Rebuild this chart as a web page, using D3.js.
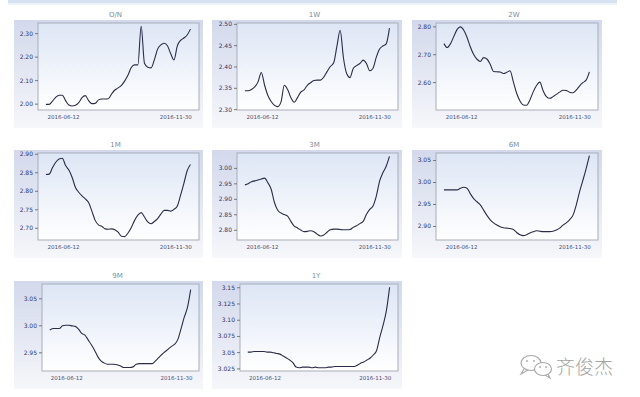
<!DOCTYPE html>
<html>
<head>
<meta charset="utf-8">
<script src="https://cdnjs.cloudflare.com/ajax/libs/d3/7.8.5/d3.min.js"></script>
<style>
  body { margin: 0; background: #fff; }
  svg { display: block; }
</style>
</head>
<body>
<svg id="chart" width="640" height="397"></svg>
<script>
const dates = [
    '2016-05-17', '2016-05-22', '2016-05-27', '2016-06-01', '2016-06-06', '2016-06-11', '2016-06-16', '2016-06-21', '2016-06-26',
    '2016-07-01', '2016-07-06', '2016-07-11', '2016-07-16', '2016-07-21', '2016-07-26', '2016-07-31', '2016-08-05', '2016-08-10',
    '2016-08-15', '2016-08-20', '2016-08-25', '2016-08-30', '2016-09-04', '2016-09-09', '2016-09-14', '2016-09-19', '2016-09-24',
    '2016-09-29', '2016-10-04', '2016-10-09', '2016-10-14', '2016-10-19', '2016-10-24', '2016-10-29', '2016-11-03', '2016-11-08',
    '2016-11-13', '2016-11-18', '2016-11-23', '2016-11-28', '2016-12-03', '2016-12-08', '2016-12-13', '2016-12-18', '2016-12-23'
];

const tenors = ['O/N', '1W', '2W', '1M', '3M', '6M', '9M', '1Y'];

const onValues = [1.997, 1.997, 2.011, 2.027, 2.036, 2.036, 2.013, 1.994, 1.990, 1.993, 2.004, 2.026, 2.034, 2.013, 2.000,
    2.001, 2.016, 2.020, 2.020, 2.021, 2.041, 2.058, 2.067, 2.078, 2.097, 2.122, 2.154, 2.165, 2.165, 2.329, 2.172, 2.155,
    2.152, 2.186, 2.232, 2.250, 2.257, 2.246, 2.212, 2.186, 2.246, 2.269, 2.279, 2.292, 2.317];
const w1Values = [2.343, 2.343, 2.346, 2.352, 2.364, 2.386, 2.356, 2.332, 2.318, 2.309, 2.306, 2.317, 2.356, 2.346, 2.327,
    2.316, 2.327, 2.340, 2.345, 2.356, 2.362, 2.367, 2.368, 2.368, 2.375, 2.388, 2.400, 2.408, 2.447, 2.485, 2.420, 2.383,
    2.374, 2.396, 2.402, 2.407, 2.415, 2.407, 2.390, 2.396, 2.422, 2.441, 2.448, 2.453, 2.490];
const w2Values = [2.738, 2.724, 2.738, 2.764, 2.789, 2.798, 2.786, 2.760, 2.726, 2.699, 2.682, 2.674, 2.688, 2.683, 2.664,
    2.638, 2.637, 2.636, 2.631, 2.635, 2.641, 2.601, 2.560, 2.532, 2.518, 2.517, 2.536, 2.565, 2.588, 2.600, 2.569, 2.548,
    2.542, 2.548, 2.556, 2.564, 2.571, 2.570, 2.564, 2.562, 2.571, 2.586, 2.598, 2.607, 2.637];
const m1Values = [2.844, 2.845, 2.862, 2.877, 2.886, 2.888, 2.868, 2.856, 2.836, 2.809, 2.796, 2.786, 2.778, 2.768, 2.745,
    2.720, 2.708, 2.704, 2.697, 2.696, 2.697, 2.695, 2.688, 2.677, 2.676, 2.686, 2.701, 2.720, 2.734, 2.741, 2.729, 2.716,
    2.711, 2.717, 2.725, 2.737, 2.747, 2.747, 2.745, 2.750, 2.759, 2.788, 2.820, 2.854, 2.871];
const m3Values = [2.945, 2.949, 2.955, 2.958, 2.961, 2.964, 2.967, 2.952, 2.931, 2.888, 2.863, 2.854, 2.849, 2.844, 2.827,
    2.812, 2.806, 2.799, 2.794, 2.795, 2.797, 2.794, 2.786, 2.780, 2.783, 2.792, 2.800, 2.802, 2.802, 2.801, 2.800, 2.800,
    2.801, 2.808, 2.813, 2.820, 2.827, 2.850, 2.866, 2.877, 2.909, 2.957, 2.984, 3.005, 3.037];
const m6Values = [2.982, 2.982, 2.982, 2.982, 2.982, 2.986, 2.988, 2.986, 2.973, 2.962, 2.955, 2.948, 2.936, 2.924, 2.914,
    2.907, 2.902, 2.898, 2.896, 2.895, 2.894, 2.892, 2.885, 2.880, 2.878, 2.880, 2.884, 2.887, 2.889, 2.888, 2.887, 2.887,
    2.887, 2.888, 2.891, 2.895, 2.902, 2.907, 2.914, 2.924, 2.947, 2.977, 3.003, 3.030, 3.060];
const m9Values = [2.991, 2.994, 2.994, 2.994, 2.999, 3.000, 3.000, 2.999, 2.998, 2.993, 2.985, 2.982, 2.973, 2.964, 2.954,
    2.942, 2.934, 2.930, 2.928, 2.928, 2.928, 2.927, 2.925, 2.922, 2.922, 2.922, 2.923, 2.928, 2.929, 2.929, 2.929, 2.929,
    2.929, 2.934, 2.940, 2.946, 2.951, 2.956, 2.961, 2.965, 2.974, 2.994, 3.015, 3.033, 3.066];
const y1Values = [3.050, 3.050, 3.051, 3.051, 3.051, 3.051, 3.050, 3.050, 3.049, 3.048, 3.047, 3.044, 3.041, 3.038, 3.034,
    3.027, 3.026, 3.027, 3.027, 3.027, 3.026, 3.027, 3.026, 3.026, 3.026, 3.027, 3.027, 3.028, 3.028, 3.028, 3.028, 3.028,
    3.028, 3.028, 3.030, 3.033, 3.035, 3.038, 3.041, 3.046, 3.053, 3.074, 3.092, 3.114, 3.150];

const onTicks = ['2.00', '2.10', '2.20', '2.30'];
const w1Ticks = ['2.30', '2.35', '2.40', '2.45', '2.50'];
const w2Ticks = ['2.60', '2.70', '2.80'];
const m1Ticks = ['2.70', '2.75', '2.80', '2.85', '2.90'];
const m3Ticks = ['2.80', '2.85', '2.90', '2.95', '3.00'];
const m6Ticks = ['2.90', '2.95', '3.00', '3.05'];
const m9Ticks = ['2.95', '3.00', '3.05'];
const y1Ticks = ['3.025', '3.05', '3.075', '3.10', '3.125', '3.15'];

const yDomains = [[1.973, 2.343], [2.298, 2.502], [2.50, 2.812], [2.667, 2.902],
                  [2.767, 3.048], [2.868, 3.066], [2.9154, 3.0765], [3.021, 3.155]];

const xTickLabels = ['2016-06-12', '2016-11-30'];
const xDomain = ['2016-05-05', '2017-01-05'];

const seriesValues = [onValues, w1Values, w2Values, m1Values, m3Values, m6Values, m9Values, y1Values];
const seriesTicks = [onTicks, w1Ticks, w2Ticks, m1Ticks, m3Ticks, m6Ticks, m9Ticks, y1Ticks];

// layout
const colLefts = [14, 212, 412];
const colRights = [203, 402, 602];
const rowTops = [20, 150, 281];
const plotLefts = [38, 237, 436, 38, 237, 436, 42, 240];
const PANEL_H = 108;

const parse = d3.timeParse('%Y-%m-%d');
const svg = d3.select('#chart');

const defs = svg.append('defs');
const pg = defs.append('linearGradient').attr('id', 'panelGrad')
    .attr('x1', 0).attr('y1', 0).attr('x2', 0).attr('y2', 1);
pg.append('stop').attr('offset', '0%').attr('stop-color', '#d3d9ec');
pg.append('stop').attr('offset', '65%').attr('stop-color', '#e9ecf5');
pg.append('stop').attr('offset', '100%').attr('stop-color', '#f6f7fa');

const ag = defs.append('linearGradient').attr('id', 'plotGrad')
    .attr('x1', 0).attr('y1', 0).attr('x2', 0).attr('y2', 1);
ag.append('stop').attr('offset', '0%').attr('stop-color', '#dde6f5');
ag.append('stop').attr('offset', '100%').attr('stop-color', '#ffffff');

// top strip
svg.append('rect').attr('x', 8).attr('y', 0).attr('width', 609).attr('height', 3).attr('fill', '#d3e1f1');
svg.append('rect').attr('x', 8).attr('y', 3).attr('width', 609).attr('height', 2).attr('fill', '#edf2f8');

tenors.forEach((name, i) => {
    const col = i % 3, row = Math.floor(i / 3);
    const px = colLefts[col], py = rowTops[row];
    const left = plotLefts[i], right = colRights[col] - 4;
    const top = py + 3, bottom = py + 90;

    svg.append('rect')
        .attr('x', px).attr('y', py)
        .attr('width', colRights[col] - px).attr('height', PANEL_H)
        .attr('fill', 'url(#panelGrad)');

    svg.append('text')
        .attr('x', (left + right) / 2 - 3)
        .attr('y', py - 3)
        .attr('text-anchor', 'middle')
        .attr('font-family', 'DejaVu Sans')
        .attr('font-size', '7px')
        .attr('fill', '#7b8e9c')
        .text(name);

    const x = d3.scaleTime()
        .domain(xDomain.map(parse))
        .range([left, right]);
    const y = d3.scaleLinear()
        .domain(yDomains[i])
        .range([bottom, top]);

    svg.append('rect')
        .attr('x', left).attr('y', top)
        .attr('width', right - left).attr('height', bottom - top)
        .attr('fill', 'url(#plotGrad)')
        .attr('stroke', '#a8adb9')
        .attr('stroke-width', 1);

    const ticks = seriesTicks[i];
    const yAxis = svg.append('g')
        .attr('transform', `translate(${left},0)`)
        .call(d3.axisLeft(y)
            .tickValues(ticks.map(Number))
            .tickFormat((d, j) => ticks[j])
            .tickSize(3).tickPadding(2));
    yAxis.select('.domain').remove();
    yAxis.selectAll('line').attr('stroke', '#777');
    yAxis.selectAll('text')
        .attr('font-family', 'DejaVu Sans')
        .attr('font-size', '6px')
        .attr('fill', '#30366e');

    const xAxis = svg.append('g')
        .attr('transform', `translate(0,${bottom})`)
        .call(d3.axisBottom(x)
            .tickValues(xTickLabels.map(parse))
            .tickFormat((d, j) => xTickLabels[j])
            .tickSize(0).tickPadding(5));
    xAxis.select('.domain').remove();
    xAxis.selectAll('text')
        .attr('font-family', 'DejaVu Sans')
        .attr('font-size', '5.5px')
        .attr('fill', '#4a4e78');

    const line = d3.line()
        .x((d, j) => x(parse(dates[j])))
        .y(d => y(d))
        .curve(d3.curveMonotoneX);

    svg.append('path')
        .datum(seriesValues[i])
        .attr('d', line)
        .attr('fill', 'none')
        .attr('stroke', '#2b2c48')
        .attr('stroke-width', 1.1)
        .attr('stroke-linejoin', 'round');
});

// watermark
const wm = svg.append('g').attr('fill', 'none').attr('stroke', '#a8a8a8').attr('stroke-width', 1.1);
wm.append('ellipse').attr('cx', 531).attr('cy', 363).attr('rx', 10).attr('ry', 7.5);
wm.append('path').attr('d', 'M524,369 L521,374 L528,370');
wm.append('ellipse').attr('cx', 543).attr('cy', 369).attr('rx', 8.5).attr('ry', 6.5).attr('fill', '#fff');
wm.append('path').attr('d', 'M548,374 L550,378 L545,375');
[[527, 361], [534, 361], [540, 367], [546, 367]].forEach(p => {
    svg.append('circle').attr('cx', p[0]).attr('cy', p[1]).attr('r', 0.9).attr('fill', '#a8a8a8');
});
svg.append('text')
    .attr('x', 556).attr('y', 374)
    .attr('font-family', 'Noto Sans CJK SC')
    .attr('font-weight', 300)
    .attr('font-size', '19px')
    .attr('fill', '#a3a3a3')
    .text('齐俊杰');
</script>
</body>
</html>
